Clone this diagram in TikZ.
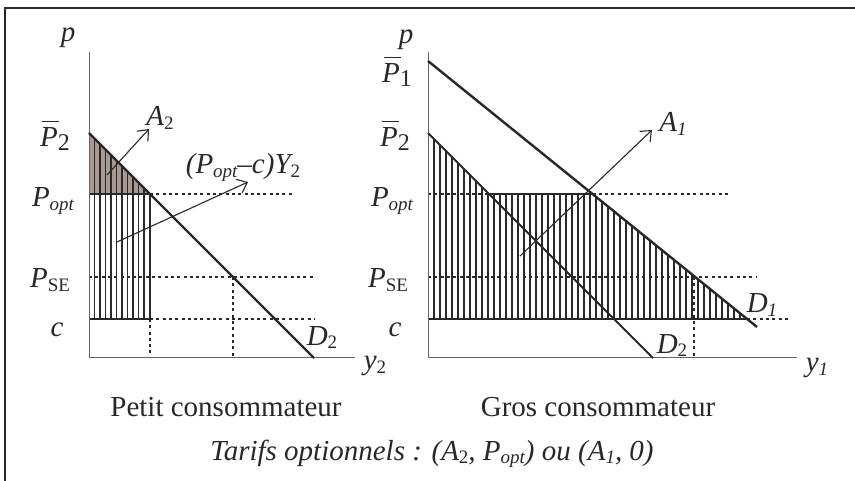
\documentclass[tikz,border=0pt]{standalone}
\usepackage{fontspec}
\setmainfont{Liberation Serif}
\usetikzlibrary{arrows.meta}
\newcommand{\sbx}[1]{\raisebox{-0.3ex}{\fontsize{19}{19}\selectfont #1}}
\newcommand{\sbbig}[1]{\raisebox{-0.3ex}{\fontsize{24}{24}\selectfont\upshape #1}}
\newcommand{\Pbar}{\rlap{\hspace{0.08em}\raisebox{0.86em}{\rule{0.58em}{1.1pt}}}P}
\definecolor{shadebrown}{RGB}{170,152,148}
\definecolor{ink}{RGB}{40,40,40}
\begin{document}
\begin{tikzpicture}[x=1pt,y=-1pt,
  lbl/.style={inner sep=0pt, anchor=base, text=ink, font=\fontsize{29}{34}\selectfont\itshape},
  rm/.style={inner sep=0pt, anchor=base, text=ink, font=\fontsize{29}{34}\selectfont},
  axis/.style={draw=black!60, line width=1pt},
  dem/.style={draw=ink, line width=2.4pt},
  demthin/.style={draw=ink, line width=1.8pt},
  dotl/.style={draw=ink, line width=1.2pt, dash pattern=on 3pt off 3.3pt},
  hatch/.style={draw=ink, line width=1.1pt},
  edgeline/.style={draw=ink, line width=1.2pt},
  arr/.style={draw=ink, line width=1.1pt, -{Straight Barb[length=9pt,width=15pt,line width=1.1pt]}},
]
\useasboundingbox (0,0) rectangle (855,481);
% frame (top and left only)
\draw[line width=2pt, ink] (5,482) -- (5,8) -- (856,8);

% ---------------- left panel ----------------
\coordinate (LO) at (89,358);
\coordinate (LYt) at (89,52);
\coordinate (LXr) at (355,358);
\coordinate (LD2a) at (89,133);
\coordinate (LD2b) at (314,358);
\coordinate (LQ) at (150,194);
\coordinate (LQc) at (150,319);
\coordinate (LCl) at (89,319);
\coordinate (LPl) at (89,194);

\fill[shadebrown] (LD2a) -- (LQ) -- (LPl) -- cycle;
\begin{scope}
  \clip (LD2a) -- (LQ) -- (LQc) -- (LCl) -- cycle;
  \foreach \i in {1,...,11} \draw[hatch] (89+\i*5.5,120) -- (89+\i*5.5,330);
\end{scope}
\draw[edgeline] (LPl) -- (LQ) -- (LQc) -- (LCl);

\coordinate (LPoptR) at (292,194);
\coordinate (LSEl) at (89,277);
\coordinate (LSEr) at (315,277);
\coordinate (LCr) at (315,319);
\coordinate (LQb) at (150,358);
\coordinate (LSEq) at (233,277);
\coordinate (LSEqb) at (233,358);
\draw[dotl] (LQ) -- (LPoptR);
\draw[dotl] (LSEl) -- (LSEr);
\draw[dotl] (LQc) -- (LCr);
\draw[dotl] (LQc) -- (LQb);
\draw[dotl] (LSEq) -- (LSEqb);

\draw[axis] (LYt) -- (LO) -- (LXr);
\draw[dem] (LD2a) -- (LD2b);

\coordinate (LA2s) at (107,175);
\coordinate (LA2e) at (149,129);
\coordinate (LYs) at (117,242);
\coordinate (LYe) at (248,182);
\draw[arr] (LA2s) -- (LA2e);
\draw[arr] (LYs) -- (LYe);

\node[lbl] (lp) at (68,42) {p};
\node[lbl] (lP2) at (55,147) {\Pbar\sbbig{2}};
\node[lbl] (lPopt) at (53,207) {P\sbx{opt}};
\node[lbl] (lPSE) at (50,288) {P\sbx{\upshape SE}};
\node[lbl] (lc) at (57,337) {c};
\node[lbl] (lD2) at (322,345) {D\sbx{\upshape 2}};
\node[lbl] (ly2) at (375,370) {y\sbx{\upshape 2}};
\node[lbl] (lA2) at (160,126) {A\sbx{\upshape 2}};
\node[lbl] (lY2) at (243,174) {(P\sbx{opt}--c)Y\sbx{\upshape 2}};
\node[rm] (lcap) at (226,417) {Petit consommateur};

% ---------------- right panel ----------------
\coordinate (RO) at (428,358);
\coordinate (RYt) at (428,52);
\coordinate (RXr) at (797,358);
\coordinate (RD1a) at (428,61);
\coordinate (RD1b) at (757,327);
\coordinate (RD2a) at (428,133);
\coordinate (RD2b) at (653,358);
\coordinate (RQ2) at (489,194);
\coordinate (RQ1) at (592.5,194);
\coordinate (RQc) at (747,319);
\coordinate (RCl) at (428,319);
\coordinate (RPl) at (428,194);

\begin{scope}
  \clip (RD2a) -- (RQ2) -- (RQ1) -- (RQc) -- (RCl) -- cycle;
  \foreach \i in {1,...,53} \draw[hatch] (428+\i*6,120) -- (428+\i*6,330);
\end{scope}
\draw[edgeline] (RQ2) -- (RQ1);
\draw[edgeline] (RCl) -- (RQc);

\coordinate (RPoptR) at (730,194);
\coordinate (RSEl) at (428,277);
\coordinate (RSEr) at (757,277);
\coordinate (RCr) at (790,319);
\coordinate (RSEq) at (694,277);
\coordinate (RSEqb) at (694,358);
\draw[dotl] (RPl) -- (RQ2);
\draw[dotl] (RQ1) -- (RPoptR);
\draw[dotl] (RSEl) -- (RSEr);
\draw[dotl] (RQc) -- (RCr);
\draw[dotl] (RSEq) -- (RSEqb);

\draw[axis] (RYt) -- (RO) -- (RXr);
\draw[dem] (RD1a) -- (RD1b);
\draw[demthin] (RD2a) -- (RD2b);

\coordinate (RA1s) at (520,256);
\coordinate (RA1e) at (652,130);
\draw[arr] (RA1s) -- (RA1e);

\node[lbl] (rp) at (406,44) {p};
\node[lbl] (rP1) at (397,83) {\Pbar\sbbig{1}};
\node[lbl] (rP2) at (395,147) {\Pbar\sbbig{2}};
\node[lbl] (rPopt) at (392,207) {P\sbx{opt}};
\node[lbl] (rPSE) at (388,288) {P\sbx{\upshape SE}};
\node[lbl] (rc) at (395,337) {c};
\node[lbl] (rA1) at (673,132) {A\sbx{1}};
\node[lbl] (rD1) at (762,313) {D\sbx{1}};
\node[lbl] (rD2) at (672,353) {D\sbx{\upshape 2}};
\node[lbl] (ry1) at (817,372) {y\sbx{1}};
\node[rm] (rcap) at (598,417) {Gros consommateur};

\node[lbl] (tarifs) at (432,460) {Tarifs optionnels : (A\sbx{\upshape 2}, P\sbx{opt}) ou (A\sbx{1}, 0)};
\end{tikzpicture}
\end{document}
